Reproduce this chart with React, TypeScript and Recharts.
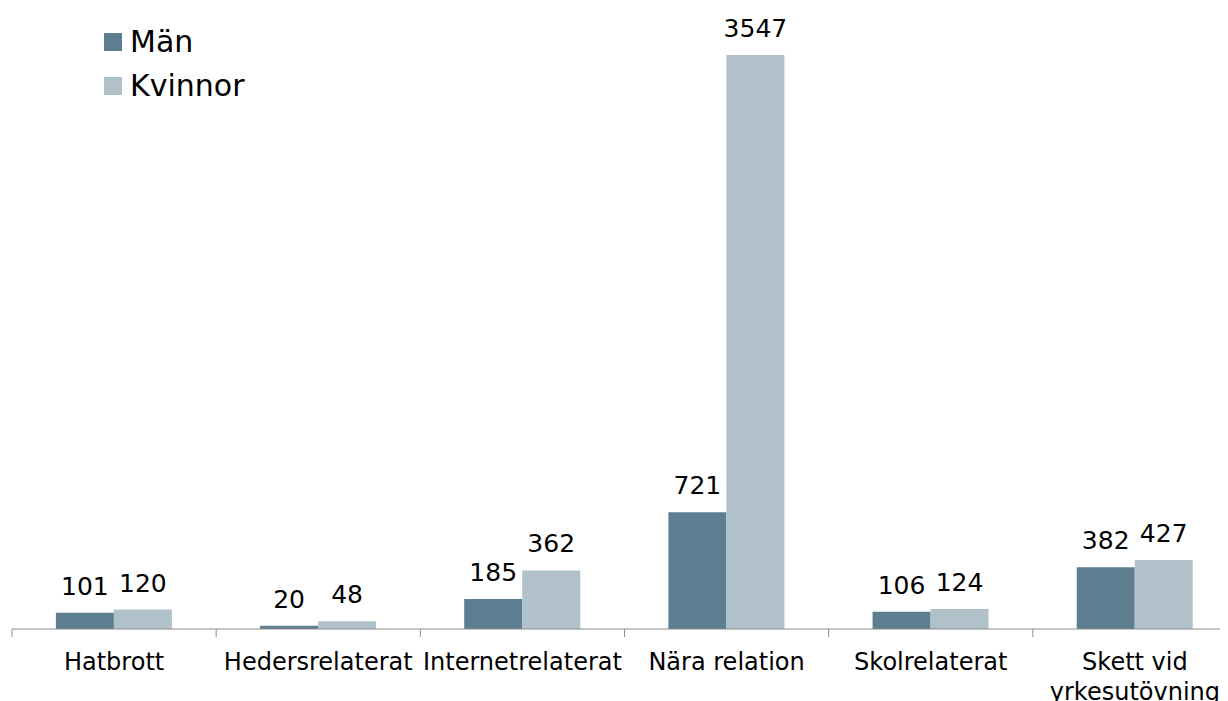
import React from "react";
import { BarChart, Bar, XAxis, YAxis, LabelList } from "recharts";

const categories = ["Hatbrott", "Hedersrelaterat", "Internetrelaterat", "Nära relation", "Skolrelaterat", "Skett vid yrkesutövning"];
const man = [101, 20, 185, 721, 106, 382];
const kvinnor = [120, 48, 362, 3547, 124, 427];
const seriesNames = ["Män", "Kvinnor"];
const colors = ["#5d7d90", "#b0c1ca"];

const data = categories.map((c, i) => ({ name: c, man: man[i], kvinnor: kvinnor[i] }));

const FONT = "'DejaVu Sans', Verdana, sans-serif";
const AXIS_COLOR = "#8c8c8c";

const Tick = (props: any) => {
  const { x, y, payload, index, visibleTicksCount } = props;
  const half = payload && payload.offset ? payload.offset : 102.1;
  const text: string = payload.value;
  const lines = text.length > 18 ? (() => {
    const words = text.split(" ");
    const first = words.slice(0, words.length - 1).join(" ");
    return [first, words[words.length - 1]];
  })() : [text];
  const axisY = y - 9;
  return (
    <g>
      <line x1={x - half} x2={x - half} y1={axisY} y2={axisY + 8} stroke={AXIS_COLOR} strokeWidth={1} />
      {index === (visibleTicksCount ?? 6) - 1 && (
        <line x1={x + half} x2={x + half} y1={axisY} y2={axisY + 8} stroke={AXIS_COLOR} strokeWidth={1} />
      )}
      <text x={x} y={y + 32} textAnchor="middle" fill="#000" fontSize={24} fontFamily={FONT}>
        {lines.map((l, i) => (
          <tspan key={i} x={x} dy={i === 0 ? 0 : 30}>{l}</tspan>
        ))}
      </text>
    </g>
  );
};

const LegendBox = () => (
  <div style={{ position: "absolute", top: 12, left: 96, fontFamily: FONT, fontSize: 30, color: "#000" }}>
    {seriesNames.map((n, i) => (
      <div key={n} style={{ display: "flex", alignItems: "center", height: 44 }}>
        <div style={{ width: 18, height: 18, background: colors[i], marginRight: 8 }} />
        <span style={{ lineHeight: "44px" }}>{n}</span>
      </div>
    ))}
  </div>
);

export default function App() {
  return (
    <div style={{ position: "relative", width: 1220, height: 693, overflow: "hidden" }}>
      <BarChart
        width={1240}
        height={693}
        data={data}
        margin={{ top: 6, right: 11, bottom: 0, left: 4 }}
        barCategoryGap="21.5%"
        barGap={0}
      >
        <XAxis
          dataKey="name"
          height={72}
          interval={0}
          tickSize={7}
          axisLine={{ stroke: AXIS_COLOR, strokeWidth: 1 }}
          tickLine={false}
          tick={<Tick />}
        />
        <YAxis hide domain={[0, 3800]} />
        <Bar dataKey="man" name={seriesNames[0]} fill={colors[0]} isAnimationActive={false}>
          <LabelList dataKey="man" position="top" offset={18} fill="#000" fontSize={25} fontFamily={FONT} />
        </Bar>
        <Bar dataKey="kvinnor" name={seriesNames[1]} fill={colors[1]} isAnimationActive={false}>
          <LabelList dataKey="kvinnor" position="top" offset={18} fill="#000" fontSize={25} fontFamily={FONT} />
        </Bar>
      </BarChart>
      <LegendBox />
    </div>
  );
}
